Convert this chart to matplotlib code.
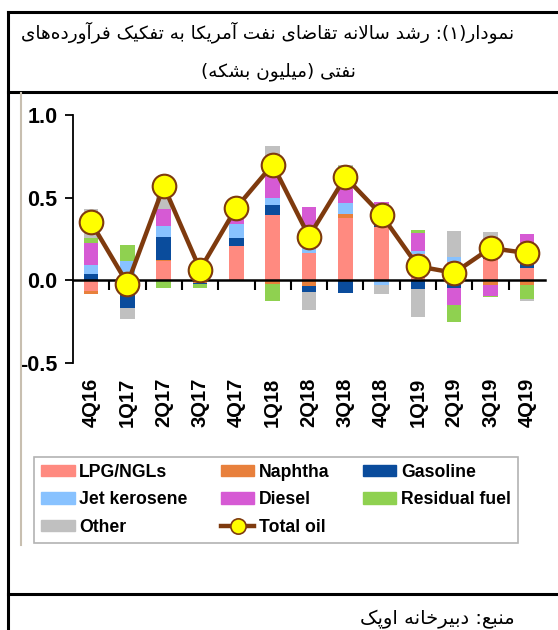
import numpy as np
import matplotlib
matplotlib.use('Agg')
import matplotlib.pyplot as plt
from matplotlib.lines import Line2D
from matplotlib.patches import Patch

# --- data (million barrels/day, y-o-y change) ---
quarters = ['4Q16', '1Q17', '2Q17', '3Q17', '4Q17', '1Q18', '2Q18',
            '3Q18', '4Q18', '1Q19', '2Q19', '3Q19', '4Q19']
lpg      = [-0.063, 0.0, 0.115, 0.04, 0.21, 0.398, 0.166, 0.374, 0.323, 0.16, 0.111, 0.13, 0.077]
naphtha  = [-0.022, 0.0, 0.01, -0.015, 0.0, -0.025, -0.035, 0.03, 0.0, 0.0, 0.0, -0.03, -0.03]
gasoline = [0.036, -0.168, 0.137, -0.01, 0.045, 0.055, -0.035, -0.075, 0.02, -0.055, -0.044, 0.02, 0.034]
jet      = [0.057, 0.117, 0.067, 0.03, 0.085, 0.042, 0.045, 0.065, -0.03, 0.02, 0.03, 0.04, 0.02]
diesel   = [0.13, 0.0, 0.1, 0.03, 0.1, 0.14, 0.233, 0.21, 0.132, 0.107, -0.107, -0.065, 0.152]
residual = [0.036, 0.095, -0.044, -0.02, 0.0, -0.1, 0.0, 0.01, 0.0, 0.02, -0.1, -0.006, -0.08]
other    = [0.17, -0.065, 0.18, 0.01, 0.0, 0.18, -0.11, 0.008, -0.05, -0.164, 0.156, 0.1, -0.016]
total    = [0.35, -0.02, 0.57, 0.065, 0.44, 0.70, 0.265, 0.625, 0.395, 0.085, 0.045, 0.195, 0.165]

series = [('LPG/NGLs', lpg, '#FF8A80'), ('Naphtha', naphtha, '#E8803C'),
          ('Gasoline', gasoline, '#0A4C9C'), ('Jet kerosene', jet, '#88C2FF'),
          ('Diesel', diesel, '#D65AD4'), ('Residual fuel', residual, '#8FD150'),
          ('Other', other, '#C0C0C0')]

title1 = 'نمودار(۱): رشد سالانه تقاضای نفت آمریکا به تفکیک فرآورده‌های'
title2 = 'نفتی (میلیون بشکه)'
source = 'منبع: دبیرخانه اوپک'

# --- tiny Persian shaper (matplotlib has no complex text layout) ---
FORMS = {  # isolated, final, initial, medial
    'ا': (0xFE8D, 0xFE8E), 'آ': (0xFE81, 0xFE82), 'د': (0xFEA9, 0xFEAA),
    'ر': (0xFEAD, 0xFEAE), 'و': (0xFEED, 0xFEEE),
    'ب': (0xFE8F, 0xFE90, 0xFE91, 0xFE92), 'پ': (0xFB56, 0xFB57, 0xFB58, 0xFB59),
    'ت': (0xFE95, 0xFE96, 0xFE97, 0xFE98), 'خ': (0xFEA5, 0xFEA6, 0xFEA7, 0xFEA8),
    'س': (0xFEB1, 0xFEB2, 0xFEB3, 0xFEB4), 'ش': (0xFEB5, 0xFEB6, 0xFEB7, 0xFEB8),
    'ض': (0xFEBD, 0xFEBE, 0xFEBF, 0xFEC0), 'ع': (0xFEC9, 0xFECA, 0xFECB, 0xFECC),
    'ف': (0xFED1, 0xFED2, 0xFED3, 0xFED4), 'ق': (0xFED5, 0xFED6, 0xFED7, 0xFED8),
    'ک': (0xFB8E, 0xFB8F, 0xFB90, 0xFB91), 'ل': (0xFEDD, 0xFEDE, 0xFEDF, 0xFEE0),
    'م': (0xFEE1, 0xFEE2, 0xFEE3, 0xFEE4), 'ن': (0xFEE5, 0xFEE6, 0xFEE7, 0xFEE8),
    'ه': (0xFEE9, 0xFEEA, 0xFEEB, 0xFEEC), 'ی': (0xFBFC, 0xFBFD, 0xFBFE, 0xFBFF),
}
LAMALEF = {'ا': (0xFEFB, 0xFEFC), 'آ': (0xFEF5, 0xFEF6)}


def shape(s):
    out = []
    i = 0
    n = len(s)
    while i < n:
        c = s[i]
        if c not in FORMS:
            if c != '\u200c':
                out.append(c)
            i += 1
            continue
        prev = s[i - 1] if i > 0 else ''
        pj = prev in FORMS and len(FORMS[prev]) == 4
        if c == 'ل' and i + 1 < n and s[i + 1] in LAMALEF:
            out.append(chr(LAMALEF[s[i + 1]][1 if pj else 0]))
            i += 2
            continue
        f = FORMS[c]
        nxt = s[i + 1] if i + 1 < n else ''
        nj = len(f) == 4 and nxt in FORMS
        if pj and nj:
            g = f[3]
        elif pj:
            g = f[1]
        elif nj:
            g = f[2]
        else:
            g = f[0]
        out.append(chr(g))
        i += 1
    vis = ''.join(out)[::-1]
    return vis.translate(str.maketrans('()', ')('))


fig = plt.figure(figsize=(5.58, 6.30), dpi=100)
ax = fig.add_axes([0.1308, 0.4238, 0.8459, 0.3937])

x = np.arange(len(quarters))
pos_base = np.zeros(len(x))
neg_base = np.zeros(len(x))
for name, vals, col in series:
    v = np.array(vals)
    p = np.where(v > 0, v, 0)
    m = np.where(v < 0, v, 0)
    ax.bar(x, p, 0.4, bottom=pos_base, color=col, zorder=2)
    ax.bar(x, m, 0.4, bottom=neg_base, color=col, zorder=2)
    pos_base += p
    neg_base += m

ax.plot(x, total, color='#7E3A0E', lw=3.2, marker='o', ms=17,
        mfc='#FFFF00', mec='#7E3A0E', mew=1.5, zorder=4)

ax.set_xlim(-0.5, 12.5)
ax.set_ylim(-0.5, 1.0)
ax.set_yticks([-0.5, 0.0, 0.5, 1.0])
ax.set_yticklabels(['-0.5', '0.0', '0.5', '1.0'], fontsize=15.5,
                   fontweight='bold', family='Liberation Sans')
ax.tick_params(axis='y', direction='out', length=6, width=1.3, pad=5)
for s in ['top', 'right']:
    ax.spines[s].set_visible(False)
ax.spines['left'].set_linewidth(1.3)
ax.spines['bottom'].set_position(('data', 0))
ax.spines['bottom'].set_linewidth(1.8)
ax.spines['bottom'].set_zorder(3)

ax.set_xticks(x)
ax.set_xticklabels(quarters, rotation=90, fontsize=14.5, fontweight='bold',
                   family='Liberation Sans', va='top')
ax.set_xticks(np.arange(0.5, 12.5, 1), minor=True)
ax.tick_params(axis='x', which='major', length=0, pad=70)
ax.tick_params(axis='x', which='minor', direction='out', length=7, width=1.5)

# legend
handles = {name: Patch(color=col) for name, vals, col in series}
handles['Total oil'] = Line2D([], [], color='#7E3A0E', lw=3.2, marker='o', ms=11,
                              mfc='#FFFF00', mec='#7E3A0E', mew=1.2)
order = ['LPG/NGLs', 'Jet kerosene', 'Other', 'Naphtha', 'Diesel', 'Total oil',
         'Gasoline', 'Residual fuel']
leg = fig.legend([handles[k] for k in order], order, ncol=3,
                 loc='upper left', bbox_to_anchor=(34 / 558, 1 - 457 / 630),
                 borderaxespad=0,
                 prop={'family': 'Liberation Sans', 'weight': 'bold', 'size': 12.7},
                 frameon=True, fancybox=False, edgecolor='#A0A0A0',
                 handlelength=1.9, handleheight=0.6, handletextpad=0.25,
                 columnspacing=1.9, labelspacing=0.58, borderpad=0.4)
leg.get_frame().set_linewidth(1.2)

# frame lines around the figure
k = dict(color='black', lw=2.2, transform=fig.transFigure)
fig.add_artist(Line2D([8 / 558, 1], [1 - 12 / 630] * 2, **k))
fig.add_artist(Line2D([8 / 558] * 2, [1 - 12 / 630, 0], **k))
fig.add_artist(Line2D([8 / 558, 1], [1 - 92 / 630] * 2, **k))
fig.add_artist(Line2D([8 / 558, 1], [1 - 594 / 630] * 2, **k))
fig.add_artist(Line2D([21 / 558] * 2, [1 - 93 / 630, 1 - 545 / 630],
                      color='#C8BFB0', lw=1.5, transform=fig.transFigure))

fig.text(268 / 558, 1 - 32 / 630, shape(title1), ha='center', va='center',
         fontsize=13.3, family='DejaVu Sans')
fig.text(278 / 558, 1 - 72 / 630, shape(title2), ha='center', va='center',
         fontsize=13.3, family='DejaVu Sans')
fig.text(515 / 558, 1 - 619 / 630, shape(source), ha='right', va='center',
         fontsize=14, family='DejaVu Sans')

fig.savefig('out.png', dpi=100)
